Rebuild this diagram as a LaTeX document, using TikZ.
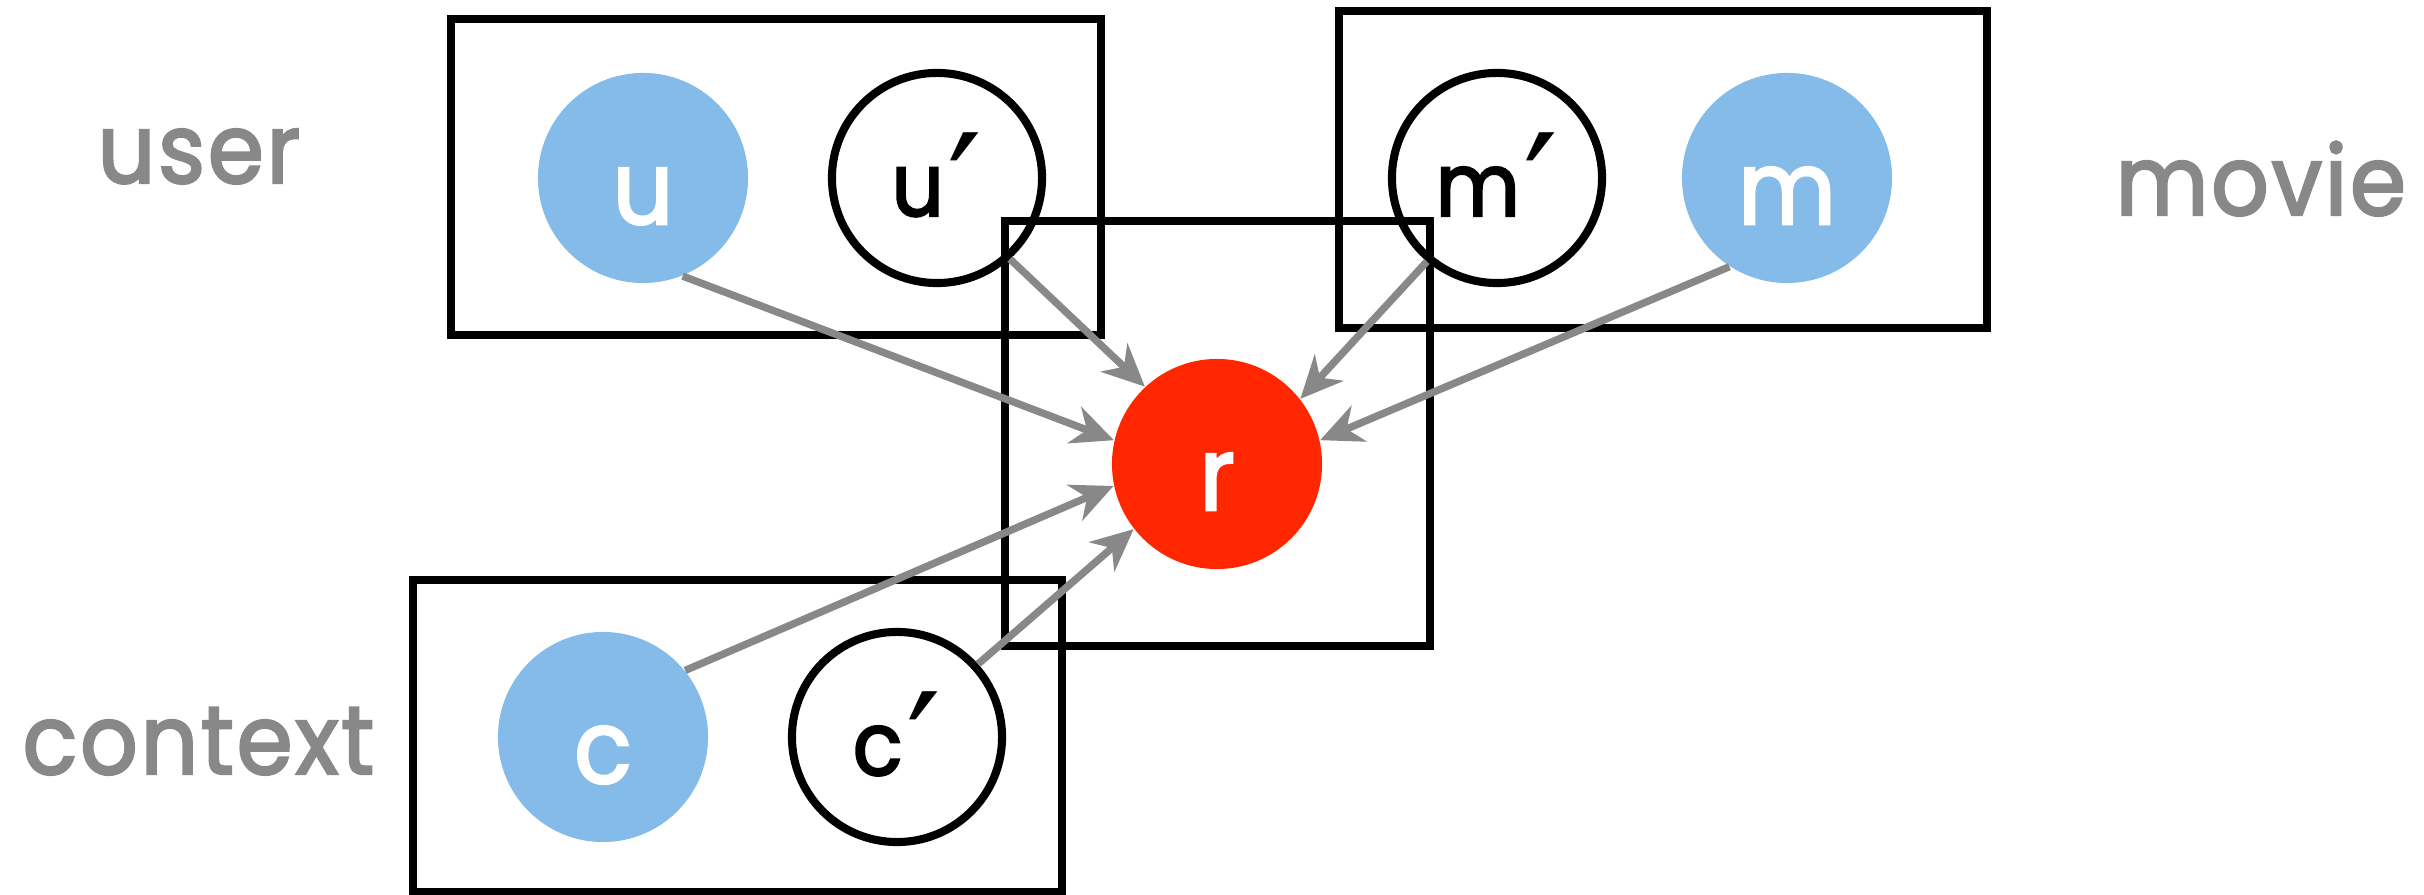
\documentclass[tikz,border=0pt]{standalone}
\usepackage{fontspec}
\setmainfont{Poppins}
\newfontfamily\gfont{Poppins}[FakeBold=2.5,FakeStretch=0.93,LetterSpace=3]
\newfontfamily\dvfont{DejaVu Sans}
\usetikzlibrary{arrows.meta}
\definecolor{obsblue}{HTML}{85BBE8}
\definecolor{rred}{HTML}{FF2600}
\definecolor{lgray}{HTML}{888888}
\newcommand{\prm}{\kern0.04em\raisebox{-8.5pt}{\dvfont\fontsize{44}{44}\selectfont ′}}
\begin{document}
\begin{tikzpicture}[x=0.01cm,y=-0.01cm,
  obsletters/.style={font=\gfont\fontsize{29}{29}\selectfont, text height=0.92cm, text depth=0pt},
  latletters/.style={font=\gfont\fontsize{25}{25}\selectfont, text height=0.76cm, text depth=0pt},
  obsnode/.style={circle, fill=obsblue, minimum size=2.1cm, inner sep=0pt, text=white, obsletters},
  latnode/.style={circle, draw=black, line width=2.3pt, minimum size=2.1cm, inner sep=0pt, text=black, latletters},
  rnode/.style={circle, fill=rred, minimum size=2.1cm, inner sep=0pt, text=white, obsletters},
  plate/.style={draw=black, line width=2.5pt},
  lbl/.style={text=lgray, font=\gfont\fontsize{27.5}{27.5}\selectfont, anchor=base west, inner sep=0pt},
  arr/.style={draw=lgray, line width=2.1pt, -{Stealth[length=12pt,width=11pt,inset=3.8pt]}}]
\useasboundingbox (0,0) rectangle (2424,895);
% nodes
\node[obsnode] (u) at (643,178) {u};
\node[latnode] (up) at (937,178) {u\prm};
\node[latnode] (mp) at (1497,178) {m\prm};
\node[obsnode] (m) at (1787,178) {m};
\node[rnode] (r) at (1217,464) {r};
\node[obsnode] (c) at (603,737) {c};
\node[latnode] (cp) at (897,737) {c\prm};
% plates
\draw[plate] (451,19) rectangle (1101,335);
\draw[plate] (1339,11) rectangle (1987,328);
\draw[plate] (1005,221) rectangle (1430,646);
\draw[plate] (413,580) rectangle (1062,892);
% labels
\node[lbl] (luser) at (97,183) {user};
\node[lbl] (lmovie) at (2115,215) {movie};
\node[lbl] (lcontext) at (22,774) {context};
% arrows
\draw[arr] (u.-68) -- (r.167);
\draw[arr] (up.-48) -- (r.133);
\draw[arr] (mp.-130) -- (r.38);
\draw[arr] (m.-123) -- (r.13);
\draw[arr] (c.39) -- (r.192);
\draw[arr] (cp.42) -- (r.218);
\end{tikzpicture}
\end{document}
